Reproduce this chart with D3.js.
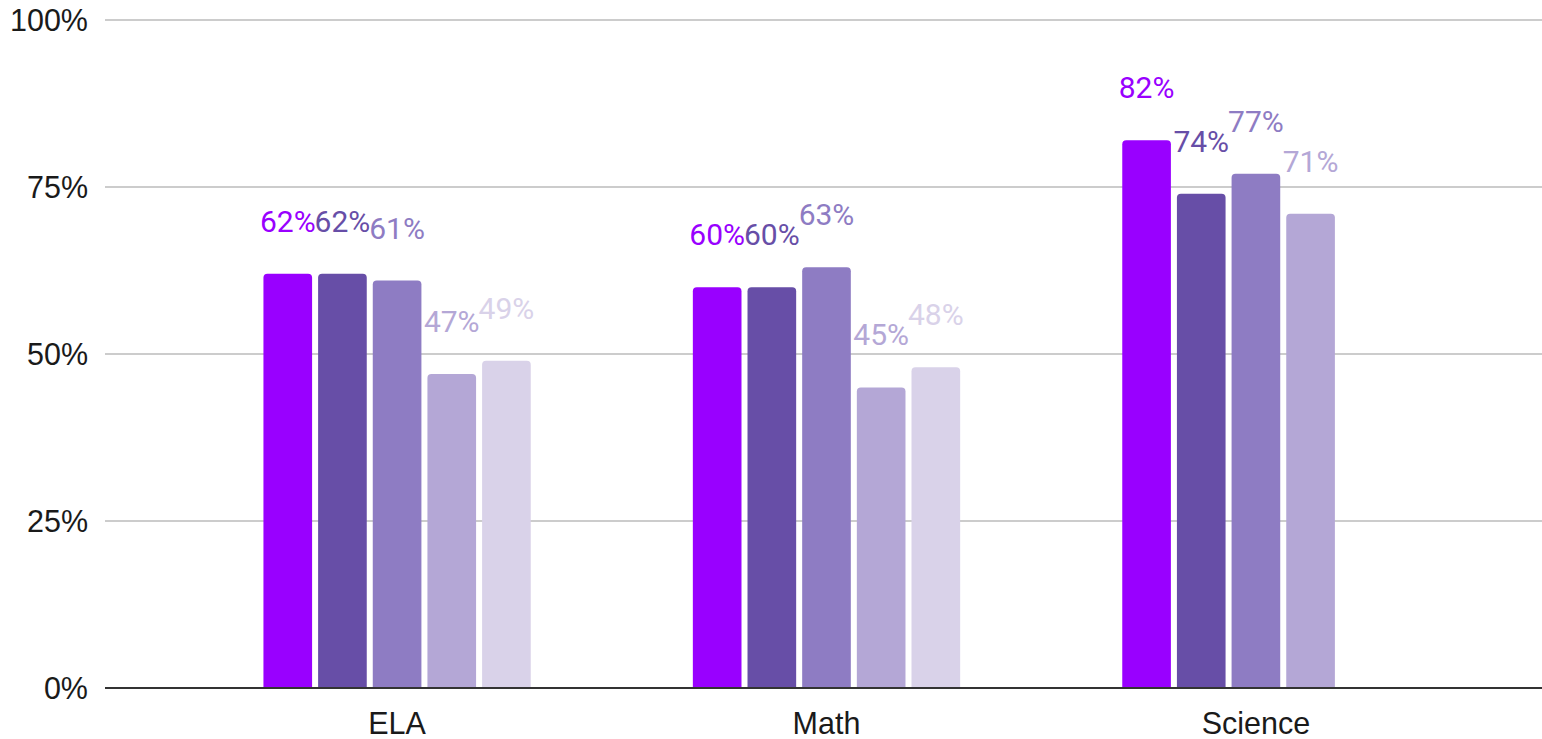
<!DOCTYPE html>
<html>
<head>
<meta charset="utf-8">
<script src="https://cdn.jsdelivr.net/npm/d3@7"></script>
<style>
  body { margin: 0; background: #fff; }
</style>
</head>
<body>
<div id="chart"></div>
<script>
const categories = ["ELA", "Math", "Science"];
const series = ["s1", "s2", "s3", "s4", "s5"];
const seriesColors = ["#9900ff", "#674ea7", "#8e7cc3", "#b4a7d6", "#d9d2e9"];
const ela = [62, 62, 61, 47, 49];
const math = [60, 60, 63, 45, 48];
const science = [82, 74, 77, 71, null];
const yTicks = [0, 25, 50, 75, 100];

const rows = [ela, math, science];

const W = 1542, H = 739;
const plotLeft = 105, plotRight = 1542, yTop = 20, yBottom = 688;

const svg = d3.select("#chart")
  .append("svg")
    .attr("width", W)
    .attr("height", H);

const x0 = d3.scaleBand()
    .domain(categories)
    .range([111, plotRight])
    .paddingInner(0.3775)
    .paddingOuter(0.355);

const x1 = d3.scaleBand()
    .domain(series)
    .range([0, x0.bandwidth()])
    .paddingInner(0.11)
    .paddingOuter(0);

const y = d3.scaleLinear()
    .domain([0, 100])
    .range([yBottom, yTop]);

const color = d3.scaleOrdinal().domain(series).range(seriesColors);

// gridlines
svg.append("g")
  .selectAll("line")
  .data(yTicks.filter(d => d > 0))
  .join("line")
    .attr("x1", plotLeft)
    .attr("x2", plotRight)
    .attr("y1", d => y(d))
    .attr("y2", d => y(d))
    .attr("stroke", "#cccccc")
    .attr("stroke-width", 2);

// y labels
svg.append("g")
  .selectAll("text")
  .data(yTicks)
  .join("text")
    .attr("x", 88)
    .attr("y", d => y(d))
    .attr("dy", "0.36em")
    .attr("text-anchor", "end")
    .style("font-family", "'Liberation Sans', Arial, sans-serif")
    .style("font-size", "30.5px")
    .attr("fill", "#1a1a1a")
    .text(d => d + "%");

const flat = [];
rows.forEach((vals, ci) => {
  vals.forEach((v, si) => {
    if (v != null) flat.push({ cat: categories[ci], s: series[si], v: v });
  });
});

function topRounded(x, yv, w, h, r) {
  return `M${x},${yv + h}V${yv + r}Q${x},${yv} ${x + r},${yv}H${x + w - r}Q${x + w},${yv} ${x + w},${yv + r}V${yv + h}Z`;
}

svg.append("g")
  .selectAll("path")
  .data(flat)
  .join("path")
    .attr("d", d => topRounded(x0(d.cat) + x1(d.s), y(d.v), x1.bandwidth(), y(0) - y(d.v), 4))
    .attr("fill", d => color(d.s));

// baseline
svg.append("line")
    .attr("x1", plotLeft)
    .attr("x2", plotRight)
    .attr("y1", y(0))
    .attr("y2", y(0))
    .attr("stroke", "#333")
    .attr("stroke-width", 2);

// value labels
svg.append("g")
  .selectAll("text")
  .data(flat)
  .join("text")
    .attr("x", d => x0(d.cat) + x1(d.s) + x1.bandwidth() / 2)
    .attr("y", d => y(d.v) - 42)
    .attr("text-anchor", "middle")
    .style("font-family", "Roboto, sans-serif")
    .style("font-size", "30px")
    .style("paint-order", "stroke")
    .attr("stroke", "#fff")
    .attr("stroke-width", 3)
    .attr("fill", d => color(d.s))
    .text(d => d.v + "%");

// x labels
svg.append("g")
  .selectAll("text")
  .data(categories)
  .join("text")
    .attr("x", d => x0(d) + x0.bandwidth() / 2)
    .attr("y", 734)
    .attr("text-anchor", "middle")
    .style("font-family", "'Liberation Sans', Arial, sans-serif")
    .style("font-size", "30.5px")
    .attr("fill", "#1a1a1a")
    .text(d => d);
</script>
</body>
</html>
